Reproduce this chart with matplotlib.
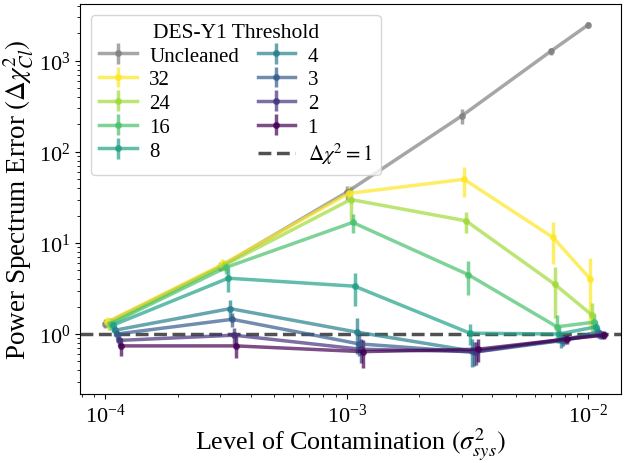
import matplotlib
matplotlib.use('Agg')
import matplotlib.pyplot as plt
import numpy as np

plt.rcParams['font.family'] = ['Liberation Serif', 'DejaVu Serif']
plt.rcParams['mathtext.fontset'] = 'stix'

# contamination levels (each threshold is nudged a little in x so bars don't overlap)
sigma_sys = [1e-4, 3e-4, 1e-3, 3e-3, 7e-3, 1e-2]

labels = ['Uncleaned', '32', '24', '16', '8', '4', '3', '2', '1']

chi2 = [
    [1.3, 5.5, 36, 250, 1280, 2500],
    [1.35, 5.8, 35, 50, 11.5, 4.0],
    [1.3, 5.7, 30, 17.5, 3.5, 1.6],
    [1.3, 5.4, 16.8, 4.5, 1.2, 1.35],
    [1.25, 4.1, 3.35, 1.02, 1.0, 1.2],
    [1.1, 1.9, 1.05, 0.65, 0.85, 1.05],
    [1.0, 1.45, 0.78, 0.63, 0.85, 1.0],
    [0.85, 0.97, 0.68, 0.64, 0.88, 0.98],
    [0.74, 0.74, 0.64, 0.68, 0.88, 0.97],
]

chi2_err = [
    [0.15, 0.6, 6, 45, 120, 180],
    [0.2, 0.8, 6, 18, 5.7, 2.8],
    [0.2, 0.8, 12, 4.5, 2.0, 0.6],
    [0.2, 0.8, 4, 1.8, 0.4, 0.3],
    [0.2, 1.2, 1.3, 0.27, 0.2, 0.2],
    [0.15, 0.47, 0.45, 0.22, 0.15, 0.15],
    [0.12, 0.25, 0.2, 0.18, 0.12, 0.12],
    [0.12, 0.2, 0.2, 0.18, 0.1, 0.1],
    [0.17, 0.2, 0.22, 0.19, 0.1, 0.1],
]

colors = ['gray'] + list(plt.cm.viridis(np.linspace(1, 0, 8)))

fig = plt.figure(figsize=(6.27, 4.64), dpi=100)
ax = fig.add_axes([0.128, 0.149, 0.862, 0.840])

handles = []
for i, lab in enumerate(labels):
    xs = np.array(sigma_sys) * 1.019 ** i
    h = ax.errorbar(xs, chi2[i], yerr=chi2_err[i], color=colors[i], label=lab,
                    marker='o', markersize=4, lw=2.5, elinewidth=2.5, alpha=0.7)
    handles.append(h)

hl = ax.axhline(1, color='#333333', ls='--', lw=2.5, alpha=0.85, label=r'$\Delta\chi^2=1$')
handles.append(hl)

ax.set_xscale('log')
ax.set_yscale('log')
ax.set_xlim(7.9e-5, 1.36e-2)
ax.set_ylim(0.22, 4200)
ax.tick_params(labelsize=16)
ax.set_xlabel(r'Level of Contamination $(\sigma^2_{sys})$', fontsize=18.8, labelpad=-1)
ax.set_ylabel(r'Power Spectrum Error $(\Delta\chi^2_{Cl})$', fontsize=19.5, labelpad=2)

leg = ax.legend(handles=handles, ncol=2, loc='upper left', fontsize=15,
                title='DES-Y1 Threshold', title_fontsize=15.5, columnspacing=0.9,
                handlelength=1.8, handletextpad=0.6, labelspacing=0.2)

fig.savefig('out.png', dpi=100)
